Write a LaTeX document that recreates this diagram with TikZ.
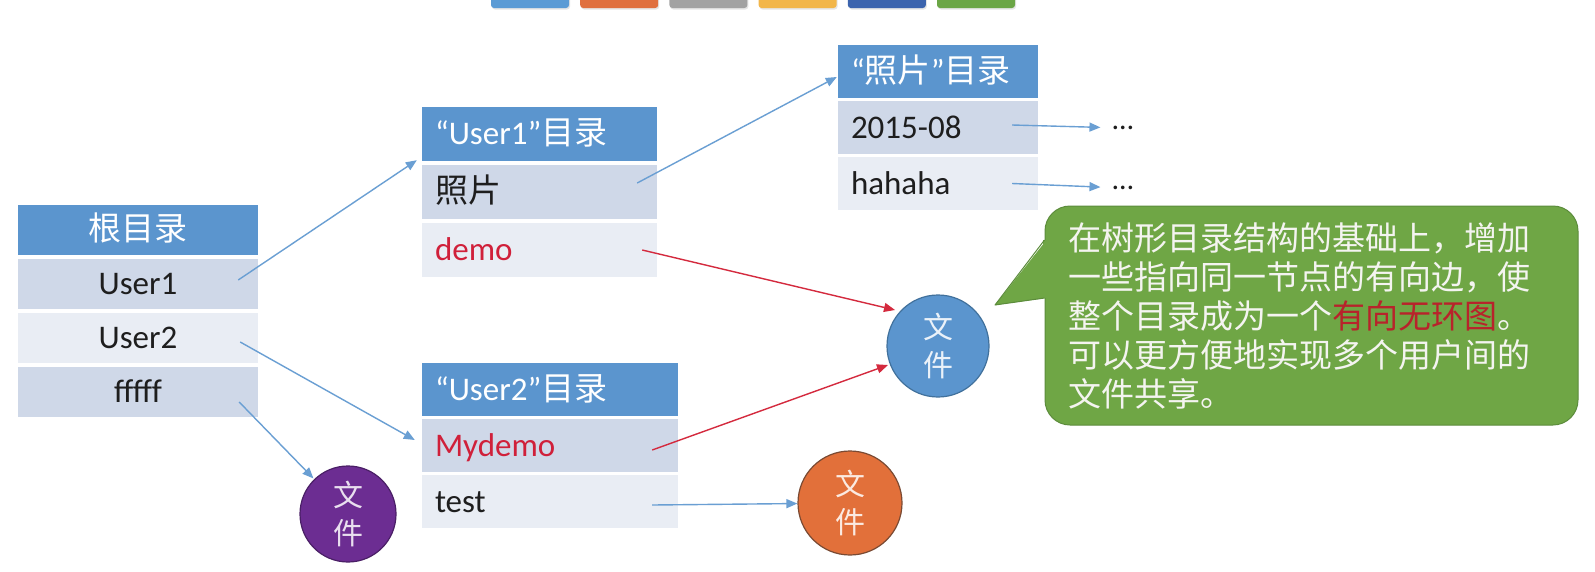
\documentclass[tikz,border=0pt]{standalone}
\usepackage{fontspec}
\setmainfont{Carlito}
\newfontfamily\cjk{Noto Sans CJK SC}
\usetikzlibrary{arrows.meta,calc}
\definecolor{hdrblue}{HTML}{5B95CE}
\definecolor{rowdark}{HTML}{CFD8E8}
\definecolor{rowlight}{HTML}{E9EDF4}
\definecolor{txtgray}{HTML}{1E1E1E}
\definecolor{txtred}{HTML}{D0203A}
\definecolor{arrblue}{HTML}{6A9FD3}
\definecolor{arrred}{HTML}{D42A3E}
\definecolor{circblue}{HTML}{5B95CE}
\definecolor{circblueB}{HTML}{41719C}
\definecolor{circorange}{HTML}{E2703A}
\definecolor{circorangeB}{HTML}{7A4A33}
\definecolor{circpurple}{HTML}{6C2D92}
\definecolor{circpurpleB}{HTML}{4A1F66}
\definecolor{bubgreen}{HTML}{6FA645}
\definecolor{bubgreenB}{HTML}{5C8C3C}
\definecolor{bubtext}{HTML}{F4F4F0}
\definecolor{bubred}{HTML}{B8232B}
\definecolor{barA}{HTML}{5B9BD5}
\definecolor{barB}{HTML}{E0703F}
\definecolor{barC}{HTML}{A2A2A2}
\definecolor{barD}{HTML}{F2B64A}
\definecolor{barE}{HTML}{3C64AE}
\definecolor{barF}{HTML}{6BA646}
\begin{document}
\begin{tikzpicture}[x=1pt,y=-1pt,
  cell/.style={rectangle, inner xsep=13pt, inner ysep=0pt, text height=24.5pt, text depth=3.5pt,
    font=\fontsize{33}{39}\selectfont, align=left},
  hdr/.style={cell, fill=hdrblue, text=white},
  rowa/.style={cell, fill=rowdark, text=txtgray},
  rowb/.style={cell, fill=rowlight, text=txtgray},
  filenode/.style={circle, line width=1.2pt, inner sep=0pt, align=center,
    font=\cjk\fontsize{30}{38}\selectfont},
  link/.style={line width=1.4pt, -{Triangle[length=11pt,width=9pt]}},
  dotsnode/.style={inner sep=0pt, font=\fontsize{30}{36}\selectfont, text=txtgray}
]
\useasboundingbox (0,0) rectangle (1595,571);
\fill[white] (0,0) rectangle (1595,571);

% top colour bars
\foreach \c [count=\i from 0] in {barA,barB,barC,barD,barE,barF}{
  \fill[black!10, rounded corners=3pt] (491+89.2*\i+1,-6) rectangle (491+89.2*\i+79,9.5);
  \fill[\c, rounded corners=3pt] (491+89.2*\i,-6) rectangle (491+89.2*\i+78,8);
}

% root table
\node[hdr, text width=214pt, align=center, minimum height=50pt] (root) at (138,230) {\cjk 根目录};
\node[rowa, text width=214pt, align=center, minimum height=50pt] (rU1) at (138,284) {User1};
\node[rowb, text width=214pt, align=center, minimum height=50pt] (rU2) at (138,338) {User2};
\node[rowa, text width=214pt, align=center, minimum height=50pt] (rF) at (138,392) {fffff};

% User1 table
\node[hdr, text width=209pt, minimum height=54pt] (h1) at (539.5,134) {“User1”\cjk 目录};
\node[rowa, text width=209pt, minimum height=54pt] (u1r1) at (539.5,192) {\cjk 照片};
\node[rowb, text width=209pt, minimum height=54pt, text=txtred] (u1r2) at (539.5,250) {demo};

% photo table
\node[hdr, text width=174pt, minimum height=53pt] (hp) at (938,71.5) {“\cjk 照片\rmfamily ”\cjk 目录};
\node[rowa, text width=174pt, minimum height=53pt] (pr1) at (938,127.5) {2015-08};
\node[rowb, text width=174pt, minimum height=53pt] (pr2) at (938,183.5) {hahaha};

% User2 table
\node[hdr, text width=230pt, minimum height=53pt] (h2) at (550,389.5) {“User2”\cjk 目录};
\node[rowa, text width=230pt, minimum height=53pt, text=txtred] (u2r1) at (550,445.5) {Mydemo};
\node[rowb, text width=230pt, minimum height=53pt] (u2r2) at (550,501.5) {test};

% file circles
\node[filenode, fill=circblue, draw=circblueB, minimum size=102pt, text=white!88!circblue] (fblue) at (938,346) {文\\件};
\node[filenode, fill=circorange, draw=circorangeB, minimum size=104pt, text=white!85!circorange] (forange) at (850,503) {文\\件};
\node[filenode, fill=circpurple, draw=circpurpleB, minimum size=96pt, text=white!85!circpurple] (fpurple) at (348,514) {文\\件};

% dots
\node[dotsnode] (d1) at (1123,128) {…};
\node[dotsnode] (d2) at (1123,188) {…};

% speech bubble
\node[rectangle, rounded corners=25pt, fill=bubgreen, draw=bubgreenB, line width=1pt,
  minimum width=533pt, minimum height=219pt, text width=486pt, inner xsep=23.5pt,
  align=left, text=bubtext, font=\cjk\fontsize{33}{39}\selectfont] (bubble) at (1311.5,315.5)
  {在树形目录结构的基础上，增加\\一些指向同一节点的有向边，使\\整个目录成为一个\textcolor{bubred}{有向无环图}。\\可以更方便地实现多个用户间的\\文件共享。};
\coordinate (pu) at ($(bubble.west)+(0,-75.5)$);
\coordinate (pl) at ($(bubble.west)+(0,-17.5)$);
\coordinate (ptip) at (995,305);
\fill[bubgreen] (ptip) -- ($(pu)+(2,0)$) -- ($(pl)+(2,0)$) -- cycle;
\fill[bubgreen] ($(pu)+(-1.5,0)$) rectangle ($(pl)+(3,0)$);
\draw[bubgreenB, line width=1pt, line join=round] (pu) -- (ptip) -- (pl);

% connectors
\coordinate (a1s) at ($(rU1.east)+(-20,-4)$);
\coordinate (a1e) at ($(h1.south west)+(-5,-1)$);
\draw[link, arrblue] (a1s) -- (a1e);
\coordinate (a2s) at ($(rU2.east)+(-18,4)$);
\coordinate (a2e) at ($(u2r1.west)+(-7,-5.5)$);
\draw[link, arrblue] (a2s) -- (a2e);
\coordinate (a3s) at ($(rF.east)+(-19,10)$);
\draw[link, arrblue, shorten >=1pt] (a3s) -- (fpurple);
\coordinate (a4s) at ($(u1r1.east)+(-20,-9)$);
\coordinate (a4e) at ($(hp.west)+(-1,5.5)$);
\draw[link, arrblue] (a4s) -- (a4e);
\coordinate (a5s) at ($(u1r2.east)+(-15,0)$);
\coordinate (a5e) at ($(fblue.center)+(-43,-36)$);
\draw[link, arrred] (a5s) -- (a5e);
\coordinate (a6s) at ($(u2r1.east)+(-26,4.5)$);
\coordinate (a6e) at ($(fblue.center)+(-50,19)$);
\draw[link, arrred] (a6s) -- (a6e);
\coordinate (a7s) at ($(u2r2.east)+(-26,3.5)$);
\draw[link, arrblue] (a7s) -- (forange);
\coordinate (a8s) at ($(pr1.east)+(-26,-2.5)$);
\draw[link, arrblue, shorten >=12pt] (a8s) -- (d1);
\coordinate (a9s) at ($(pr2.east)+(-26,0)$);
\draw[link, arrblue, shorten >=12pt] (a9s) -- (d2);
\end{tikzpicture}
\end{document}
